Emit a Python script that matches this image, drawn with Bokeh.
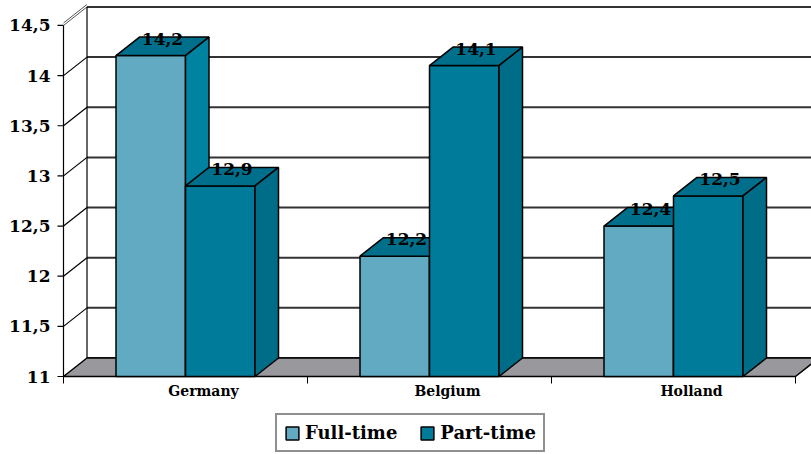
from bokeh.plotting import figure
from bokeh.models import Range1d, Legend, LegendItem
from bokeh.core.properties import value
from bokeh.embed import file_html
from bokeh.resources import INLINE

# ---- data ----
categories = ["Germany", "Belgium", "Holland"]
full_time = [14.2, 12.2, 12.5]
part_time = [12.9, 14.1, 12.8]
full_labels = ["14,2", "12,2", "12,4"]
part_labels = ["12,9", "14,1", "12,5"]
y_ticks = [11, 11.5, 12, 12.5, 13, 13.5, 14, 14.5]
y_tick_labels = ["11", "11,5", "12", "12,5", "13", "13,5", "14", "14,5"]

# ---- geometry (pixel scales) ----
W, H = 811, 454
PX_X = 244.0      # px per category
PX_Y = 100.3      # px per value unit
X0_PX = 63        # front axis x
Y0_PX = 376       # value 11 y
YMIN, YMAX = 11, 14.5
DXU = 23.5 / PX_X  # depth offset in data units
DYU = 18.5 / PX_Y
BW = 69.5 / PX_X   # bar width

FONT_NAME = "DejaVu Serif"
FONT = value(FONT_NAME)
FULL_C = "#61AAC2"
PART_C = "#007B9A"
TOP_C = "#006F8B"
SIDE_FULL = "#0082A1"
SIDE_PART = "#006D88"
FLOOR_C = "#99999D"
GRID_C = "#333333"

x_start = -X0_PX / PX_X
x_end = (W - X0_PX) / PX_X
y_start = YMIN - (H - Y0_PX) / PX_Y
y_end = y_start + H / PX_Y

p = figure(width=W, height=H, output_backend="svg", toolbar_location=None,
           x_axis_type=None, y_axis_type=None, min_border=0,
           x_range=Range1d(x_start, x_end), y_range=Range1d(y_start, y_end),
           outline_line_color=None)
p.xgrid.visible = False
p.ygrid.visible = False
p.background_fill_color = "white"
p.border_fill_color = "white"

ncat = len(categories)

# back wall
p.quad(left=[DXU], right=[x_end + 1], bottom=[YMIN + DYU], top=[YMAX + DYU],
       fill_color="white", line_color=None)
# back wall gridlines
p.segment(x0=[DXU] * len(y_ticks), x1=[x_end + 1] * len(y_ticks),
          y0=[v + DYU for v in y_ticks], y1=[v + DYU for v in y_ticks],
          line_color=GRID_C, line_width=2)
# left wall diagonals
p.segment(x0=[0] * len(y_ticks[1:-1]), x1=[DXU] * len(y_ticks[1:-1]),
          y0=y_ticks[1:-1], y1=[v + DYU for v in y_ticks[1:-1]],
          line_color="black", line_width=1.2)
# top double edge
p.segment(x0=[0, 0], x1=[DXU, DXU],
          y0=[YMAX, YMAX + 2.5 / PX_Y], y1=[YMAX + DYU, YMAX + DYU + 2.5 / PX_Y],
          line_color="#555555", line_width=1)
# back wall left edge
p.segment(x0=[DXU], x1=[DXU], y0=[YMIN + DYU], y1=[YMAX + DYU],
          line_color="black", line_width=1.2)
# floor
p.patch(x=[0, ncat, ncat + DXU, DXU], y=[YMIN, YMIN, YMIN + DYU, YMIN + DYU],
        fill_color=FLOOR_C, line_color="black", line_width=1.5)
# front value axis
p.segment(x0=[0], x1=[0], y0=[YMIN], y1=[YMAX], line_color="black", line_width=1.2)
p.segment(x0=[-6 / PX_X] * len(y_ticks), x1=[0] * len(y_ticks),
          y0=y_ticks, y1=y_ticks, line_color="black", line_width=1.2)
# category ticks
p.segment(x0=list(range(ncat + 1)), x1=list(range(ncat + 1)),
          y0=[YMIN] * (ncat + 1), y1=[YMIN - 7 / PX_Y] * (ncat + 1),
          line_color="black", line_width=1)

# bars
def draw_series(vals, offset, front_c, side_c):
    lefts = [i + 0.5 - BW + offset * BW for i in range(ncat)]
    rights = [l + BW for l in lefts]
    r = p.quad(left=lefts, right=rights, bottom=[YMIN] * ncat, top=vals,
               fill_color=front_c, line_color="black", line_width=1.5)
    tops_x = [[l, rr, rr + DXU, l + DXU] for l, rr in zip(lefts, rights)]
    tops_y = [[v, v, v + DYU, v + DYU] for v in vals]
    p.patches(xs=tops_x, ys=tops_y, fill_color=TOP_C, line_color="black", line_width=1.5)
    side_x = [[rr, rr, rr + DXU, rr + DXU] for rr in rights]
    side_y = [[YMIN, v, v + DYU, YMIN + DYU] for v in vals]
    p.patches(xs=side_x, ys=side_y, fill_color=side_c, line_color="black", line_width=1.5)
    return r, lefts, rights

r_full, lf, rf = draw_series(full_time, 0, FULL_C, SIDE_FULL)
r_part, lp, rp = draw_series(part_time, 1, PART_C, SIDE_PART)

# value labels
for lefts, rights, vals, labs in [(lf, rf, full_time, full_labels), (lp, rp, part_time, part_labels)]:
    p.text(x=[(l + r) / 2 + DXU / 2 for l, r in zip(lefts, rights)],
           y=[v + DYU - 1.5 / PX_Y for v in vals], text=labs,
           text_font=FONT, text_font_style="bold", text_font_size="17px",
           text_align="center", text_baseline="middle", text_color="black")

# y tick labels
p.text(x=[-13 / PX_X] * len(y_ticks), y=y_ticks, text=y_tick_labels,
       text_font=FONT, text_font_style="bold", text_font_size="17px",
       text_align="right", text_baseline="middle", text_color="black")

# category labels
p.text(x=[i + 0.5 + 18 / PX_X for i in range(ncat)], y=[YMIN - 14 / PX_Y] * ncat,
       text=categories, text_font=FONT, text_font_style="bold", text_font_size="14px",
       text_align="center", text_baseline="middle", text_color="black")

legend = Legend(items=[LegendItem(label="Full-time", renderers=[r_full]),
                       LegendItem(label="Part-time", renderers=[r_part])],
                orientation="horizontal", location=(275, 2),
                label_text_font=FONT_NAME, label_text_font_style="bold",
                label_text_font_size="18px", label_text_color="black",
                glyph_width=16, glyph_height=16,
                label_standoff=5, spacing=22, padding=7, margin=0,
                border_line_color="#222222", border_line_width=2,
                background_fill_alpha=1)
p.add_layout(legend, "center")

open("out.html", "w").write(file_html(p, INLINE))
